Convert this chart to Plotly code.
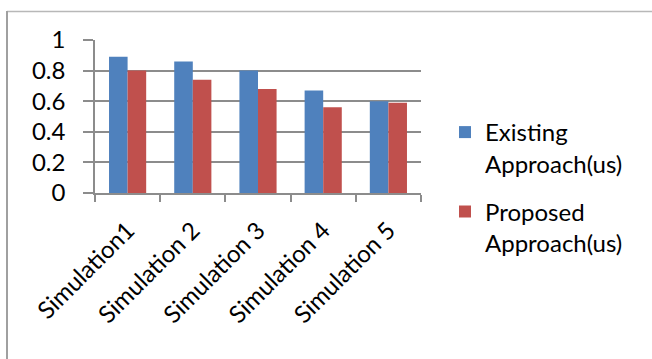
import plotly.graph_objects as go

categories = ["Simulation1", "Simulation 2", "Simulation 3", "Simulation 4", "Simulation 5"]
existing = [0.89, 0.86, 0.80, 0.67, 0.60]
proposed = [0.80, 0.74, 0.68, 0.56, 0.59]
series_names = ["Existing<br>Approach(us)", "Proposed<br>Approach(us)"]
y_ticks = [0, 0.2, 0.4, 0.6, 0.8, 1]
y_tick_text = ["0", "0.2", "0.4", "0.6", "0.8", "1"]

W, H = 652, 359
L, R, T, B = 95, 231, 40, 166
FONT = "Lato, 'Liberation Sans', sans-serif"
AXIS = "#8c8c8c"

fig = go.Figure()
fig.add_trace(go.Bar(x=categories, y=existing, name=series_names[0],
                     marker=dict(color="#4F81BD", line=dict(width=0)),
                     legendgroup="a"))
fig.add_trace(go.Bar(x=categories, y=proposed, name=series_names[1],
                     marker=dict(color="#C0504D", line=dict(width=0)),
                     legendgroup="b"))

pw, ph = W - L - R, H - T - B
def px_x(v):
    return (v - L) / pw
def px_y(v):
    return (H - B - v) / ph

# frame of the chart area (top and left edges)
fig.add_shape(type="line", xref="paper", yref="paper",
              x0=px_x(7), x1=px_x(W), y0=px_y(11.5), y1=px_y(11.5),
              line=dict(color="#b8b8b8", width=1.5))
fig.add_shape(type="line", xref="paper", yref="paper",
              x0=px_x(7), x1=px_x(7), y0=px_y(11), y1=px_y(H + 2),
              line=dict(color="#a0a0a0", width=2))

fig.update_layout(
    width=W, height=H,
    margin=dict(l=L, r=R, t=T, b=B, autoexpand=False),
    paper_bgcolor="white", plot_bgcolor="white",
    barmode="group", bargap=0.43, bargroupgap=0,
    font=dict(family=FONT, size=24, color="#000000"),
    showlegend=True,
    legend=dict(x=px_x(445), xanchor="left", y=px_y(110), yanchor="top",
                valign="top", traceorder="grouped", tracegroupgap=14,
                maxheight=320,
                font=dict(family=FONT, size=24, color="#000000"),
                bgcolor="rgba(0,0,0,0)"),
    xaxis=dict(type="category", showline=True, linecolor=AXIS, linewidth=1.5,
               ticks="outside", tickson="boundaries", ticklen=7,
               tickcolor=AXIS, tickwidth=1.5, tickangle=-45,
               ticklabelstandoff=12,
               showgrid=False, tickfont=dict(family=FONT, size=24)),
    yaxis=dict(range=[0, 1], tickvals=y_ticks, ticktext=y_tick_text,
               showline=True, linecolor=AXIS, linewidth=1.5,
               ticks="outside", ticklen=10, tickcolor=AXIS, tickwidth=1.5,
               showgrid=True, gridcolor=AXIS, gridwidth=1.5,
               zeroline=False, ticklabelstandoff=13,
               tickfont=dict(family=FONT, size=24)),
)

fig.write_html("out.html")
